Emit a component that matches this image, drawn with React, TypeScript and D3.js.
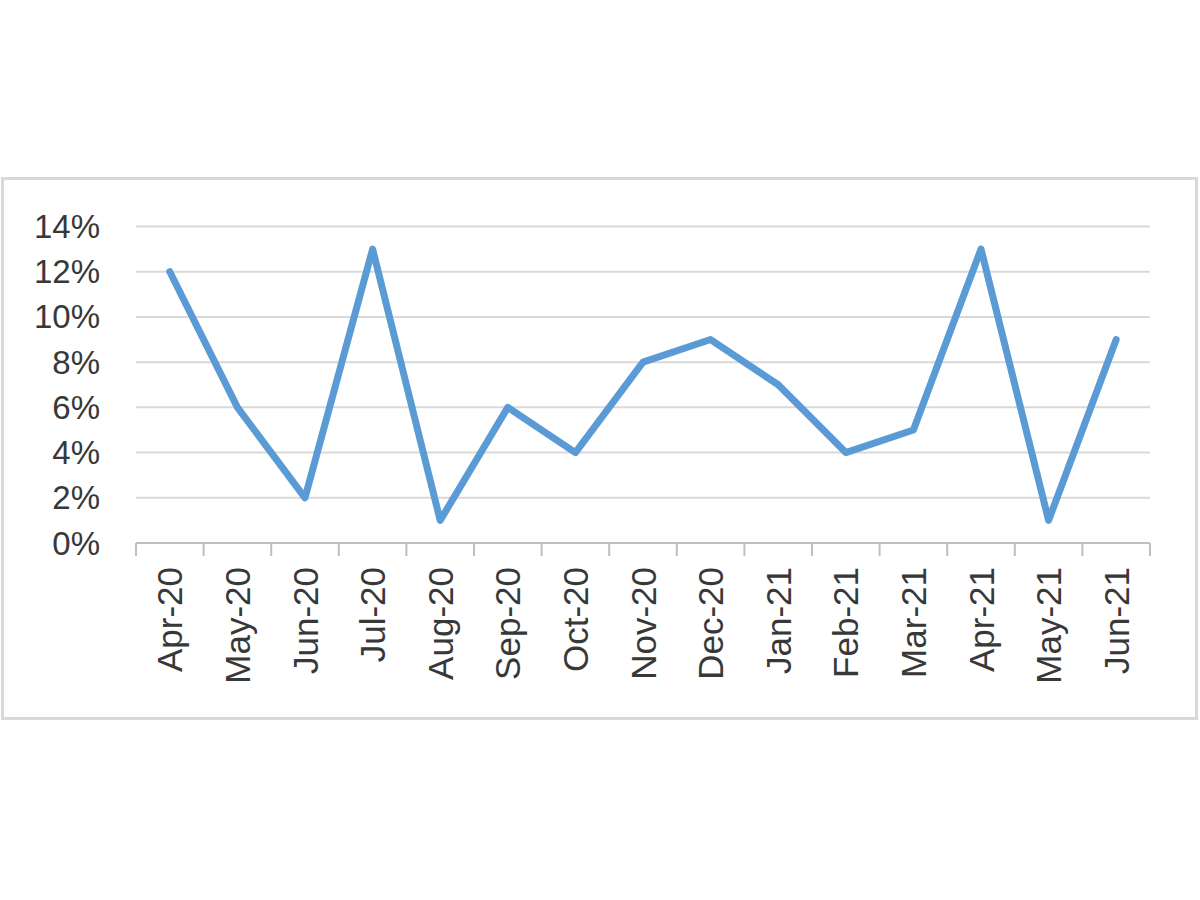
import React from "react";
import * as d3 from "d3";

const categories = ["Apr-20","May-20","Jun-20","Jul-20","Aug-20","Sep-20","Oct-20","Nov-20","Dec-20","Jan-21","Feb-21","Mar-21","Apr-21","May-21","Jun-21"];
const values = [12, 6, 2, 13, 1, 6, 4, 8, 9, 7, 4, 5, 13, 1, 9];
const yTicks = [0, 2, 4, 6, 8, 10, 12, 14];

export default function App() {
  const W = 1200, H = 900;
  const left = 136, right = 1150, top = 226.5, bottom = 543;
  const x = d3.scaleBand<string>().domain(categories).range([left, right]);
  const y = d3.scaleLinear().domain([0, 14]).range([bottom, top]);
  const line = d3.line<number>()
    .x((_, i) => (x(categories[i]) as number) + x.bandwidth() / 2)
    .y((d) => y(d));
  const font = "'Liberation Sans', Arial, sans-serif";
  const textColor = "#383838";
  const tickXs = categories.map((c) => x(c) as number).concat([right]);
  return (
    <svg width={W} height={H} style={{ position: "absolute", left: 0, top: 0, display: "block", background: "#fff" }}>
      <rect x={2.5} y={178.5} width={1194} height={540} fill="#fff" stroke="#d9d9d9" strokeWidth={3} />
      {yTicks.filter((t) => t > 0).map((t) => (
        <line key={t} x1={left} x2={right} y1={y(t)} y2={y(t)} stroke="#d9d9d9" strokeWidth={2} />
      ))}
      <line x1={left} x2={right} y1={bottom} y2={bottom} stroke="#bfbfbf" strokeWidth={2} />
      {tickXs.map((tx, i) => (
        <line key={i} x1={tx} x2={tx} y1={bottom} y2={bottom + 13} stroke="#bfbfbf" strokeWidth={2} />
      ))}
      {yTicks.map((t) => (
        <text key={t} x={100} y={y(t)} dy="0.35em" textAnchor="end" fontFamily={font} fontSize={33} fill={textColor}>
          {t}%
        </text>
      ))}
      {categories.map((c) => {
        const cx = (x(c) as number) + x.bandwidth() / 2;
        return (
          <text key={c} transform={`translate(${cx + 12.5},${567}) rotate(-90)`} textAnchor="end" fontFamily={font} fontSize={35} fill={textColor}>
            {c}
          </text>
        );
      })}
      <path d={line(values) || ""} fill="none" stroke="#5b9bd5" strokeWidth={7} strokeLinejoin="round" strokeLinecap="round" />
    </svg>
  );
}
